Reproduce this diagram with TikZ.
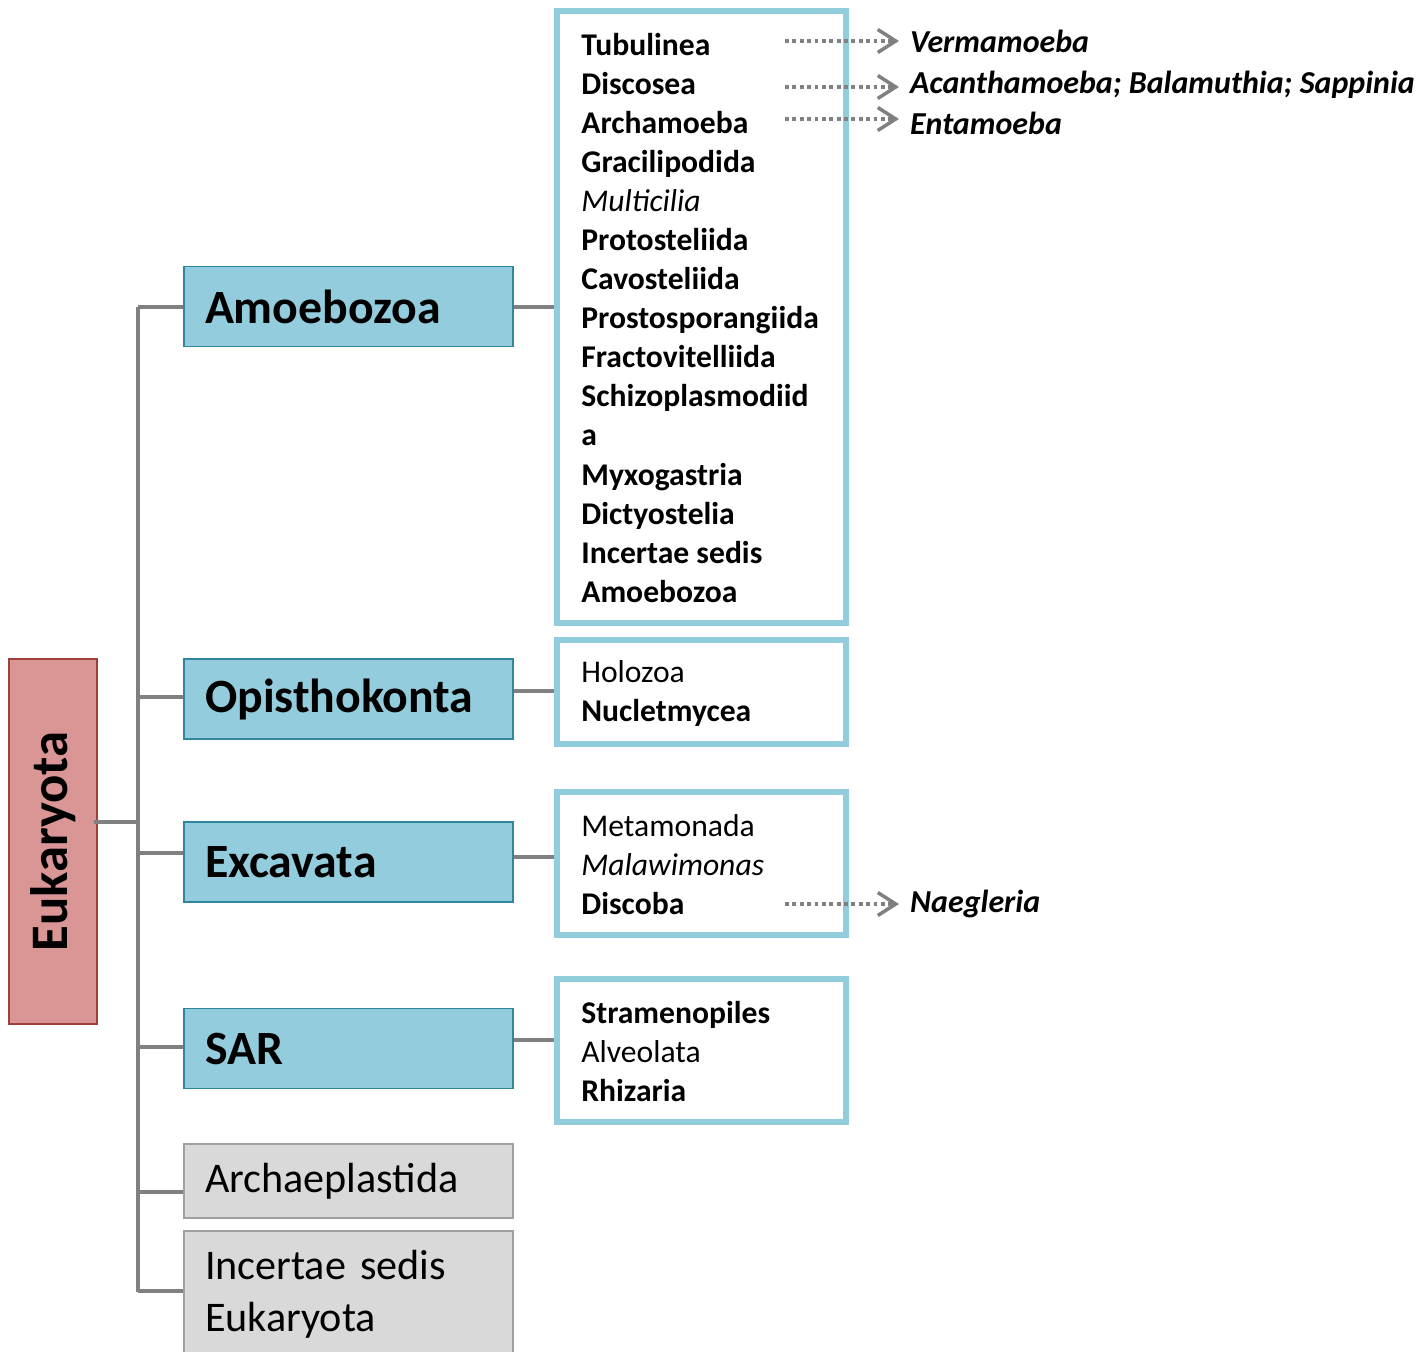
\documentclass[tikz,border=0pt]{standalone}
\usepackage{fontspec}
\setmainfont{Carlito}
\usetikzlibrary{arrows.meta}

\definecolor{eukfill}{HTML}{D99694}
\definecolor{eukline}{HTML}{A0403C}
\definecolor{taxfill}{HTML}{93CDDD}
\definecolor{taxline}{HTML}{31859C}
\definecolor{listline}{HTML}{92CDDC}
\definecolor{othfill}{HTML}{D9D9D9}
\definecolor{othline}{HTML}{A0A0A0}
\definecolor{linkgray}{HTML}{808080}

\begin{document}
\begin{tikzpicture}[x=0.02cm, y=-0.02cm,
  root/.style={draw=eukline, fill=eukfill, line width=1.1pt, rotate=90,
    minimum width=7.3cm, minimum height=1.76cm, font=\fontsize{30}{36}\selectfont\bfseries},
  taxon/.style={draw=taxline, fill=taxfill, line width=1.1pt, minimum width=6.58cm,
    minimum height=1.6cm, text width=5.74cm, align=left, inner xsep=0.42cm,
    font=\fontsize{27.2}{32}\selectfont\bfseries},
  other/.style={draw=othline, fill=othfill, line width=1.1pt, minimum width=6.58cm,
    text width=5.74cm, align=left, inner xsep=0.42cm,
    font=\fontsize{24}{29.5}\selectfont},
  listbox/.style={draw=listline, line width=3.2pt, minimum width=5.78cm},
  items/.style={anchor=west, inner sep=0pt, align=left,
    font=\fontsize{18}{22.2}\selectfont},
  genus/.style={anchor=west, font=\fontsize{18.2}{22.2}\selectfont\bfseries\itshape},
  link/.style={draw=linkgray, line width=2.8pt},
  pointer/.style={draw=linkgray, line width=2.2pt, dash pattern=on 2.2pt off 2pt,
    -{Straight Barb[length=3.6mm, width=4.6mm, line width=2pt]}, shorten >=0.1cm}
]
\clip (0,0) rectangle (1425,1351);

% left part of the tree
\node[root] (euk) at (53,841.5) {Eukaryota};

\node[taxon] (amoe) at (348.5,306.5) {Amoebozoa};
\node[taxon] (opis) at (348.5,699) {Opisthokonta};
\node[taxon] (exca) at (348.5,862) {Excavata};
\node[taxon] (sar) at (348.5,1048.5) {SAR};
\node[other, minimum height=1.48cm] (arch) at (348.5,1181) {Archaeplastida};
\node[other, minimum height=2.54cm] (ince) at (348.5,1294.5) {Incertae sedis\\Eukaryota};

\coordinate (trunktop) at (138,307);
\coordinate (trunkbot) at (138,1292);
\coordinate (fork) at (138,822);

\draw[link] (trunktop) -- (trunkbot);
\draw[link] ([xshift=-0.08cm]euk.south |- fork) -- (fork);
\foreach \n/\y in {amoe/307, opis/697, exca/853, sar/1047, arch/1192, ince/1291}
  \draw[link] (138,\y) -- (\n.west |- 0,\y);

% sub-groups
\node[listbox, minimum height=12.24cm] (amoelist) at (701.5,317) {};
\node[listbox, minimum height=2.08cm] (opislist) at (701.5,692) {};
\node[listbox, minimum height=2.86cm] (excalist) at (701.5,863.5) {};
\node[listbox, minimum height=2.86cm] (sarlist) at (701.5,1050.5) {};

\foreach \n/\y in {amoe/307, opis/691, exca/857, sar/1040}
  \draw[link] (\n.east |- 0,\y) -- (\n list.west |- 0,\y);

\node[items] (amoeitems) at (581,318) {\bfseries Tubulinea\\ \bfseries Discosea\\
  \bfseries Archamoeba\\ \bfseries Gracilipodida\\ \itshape Multicilia\\
  \bfseries Protosteliida\\ \bfseries Cavosteliida\\ \bfseries Prostosporangiida\\
  \bfseries Fractovitelliida\\ \bfseries Schizoplasmodiid\\ \bfseries a\\
  \bfseries Myxogastria\\ \bfseries Dictyostelia\\ \bfseries Incertae sedis\\
  \bfseries Amoebozoa};
\node[items] (opisitems) at (581,693.5) {Holozoa\\ \bfseries Nucletmycea};
\node[items] (excaitems) at (581,865) {Metamonada\\ \itshape Malawimonas\\ \bfseries Discoba};
\node[items] (saritems) at (581,1052) {\bfseries Stramenopiles\\ Alveolata\\ \bfseries Rhizaria};

% genera
\coordinate (tubuout) at (785,41);
\coordinate (discout) at (785,87);
\coordinate (archout) at (785,119);
\coordinate (discobaout) at (785,904);

\node[genus] (verma) at (904,41) {Vermamoeba};
\node[genus] (acanth) at (904,85) {Acanthamoeba; Balamuthia; Sappinia};
\node[genus] (entam) at (904,123) {Entamoeba};
\node[genus] (naeg) at (904,904) {Naegleria};

\draw[pointer] (tubuout) -- (tubuout -| verma.west);
\draw[pointer] (discout) -- (discout -| acanth.west);
\draw[pointer] (archout) -- (archout -| entam.west);
\draw[pointer] (discobaout) -- (discobaout -| naeg.west);

\end{tikzpicture}
\end{document}
